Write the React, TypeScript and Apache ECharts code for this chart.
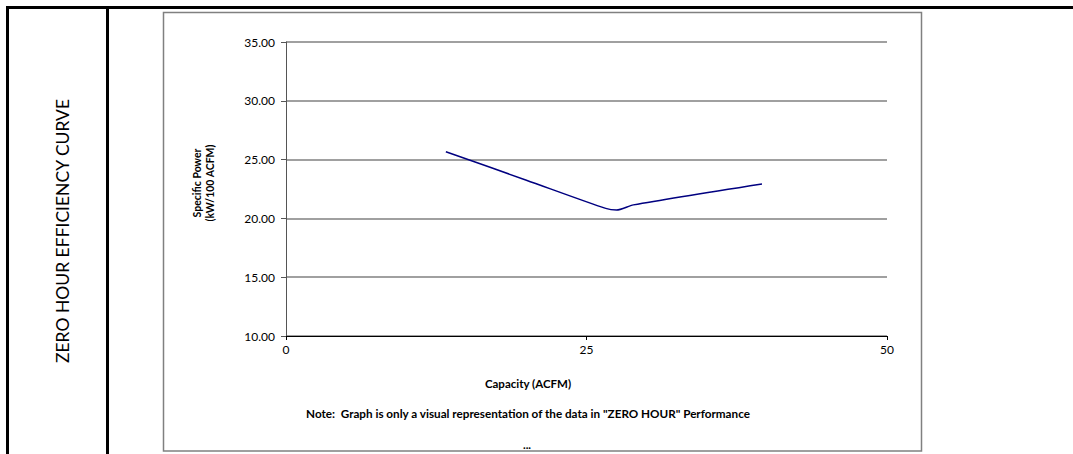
import React, { useEffect, useRef } from "react";
import * as echarts from "echarts";

const capacity = [13.3, 20.0, 26.6, 27.5, 28.9, 39.6];
const specificPower = [25.67, 23.25, 20.85, 20.71, 21.15, 22.93];
const yTicks = [10, 15, 20, 25, 30, 35];
const xTicks = [0, 25, 50];

const FONT = "Lato, 'Open Sans', sans-serif";

export default function App() {
  const ref = useRef<HTMLDivElement>(null);
  useEffect(() => {
    document.body.style.margin = "0";
    const chart = echarts.init(ref.current!, null, { renderer: "svg" });
    const data = capacity.map((c, i) => [c, specificPower[i]]);
    chart.setOption({
      animation: false,
      backgroundColor: "#ffffff",
      grid: { left: 286, right: 186, top: 42, bottom: 118 },
      xAxis: {
        type: "value",
        min: xTicks[0],
        max: xTicks[xTicks.length - 1],
        interval: 25,
        axisLine: { show: true, lineStyle: { color: "#000000", width: 1 } },
        axisTick: { show: true, inside: false, length: 4, lineStyle: { color: "#000000" } },
        splitLine: { show: false },
        axisLabel: { color: "#000000", fontSize: 12, fontFamily: FONT, margin: 7 },
      },
      yAxis: {
        type: "value",
        min: yTicks[0],
        max: yTicks[yTicks.length - 1],
        interval: 5,
        axisLine: { show: true, lineStyle: { color: "#555555", width: 1 } },
        axisTick: { show: true, inside: false, length: 5, lineStyle: { color: "#555555" } },
        splitLine: { show: true, lineStyle: { color: "#808080", width: 1.5 } },
        axisLabel: {
          color: "#000000",
          fontSize: 12,
          fontFamily: FONT,
          margin: 11,
          formatter: (v: number) => v.toFixed(2),
        },
      },
      series: [
        {
          type: "line",
          data,
          smooth: 0.25,
          showSymbol: false,
          lineStyle: { color: "#000080", width: 1.5 },
        },
      ],
      graphic: [
        { type: "rect", shape: { x: 6, y: 6, width: 1067, height: 3 }, style: { fill: "#000" } },
        { type: "rect", shape: { x: 6, y: 6, width: 3, height: 448 }, style: { fill: "#000" } },
        { type: "rect", shape: { x: 106, y: 6, width: 3, height: 448 }, style: { fill: "#000" } },
        {
          type: "rect",
          shape: { x: 163.5, y: 12.5, width: 758, height: 438.5 },
          style: { fill: "none", stroke: "#808080", lineWidth: 1.5 },
        },
        {
          type: "text",
          x: 62,
          y: 231,
          rotation: Math.PI / 2,
          style: {
            text: "ZERO HOUR EFFICIENCY CURVE",
            font: `17.5px ${FONT}`,
            fill: "#000",
            align: "center",
            verticalAlign: "middle",
          },
        },
        {
          type: "text",
          x: 203.5,
          y: 183,
          rotation: Math.PI / 2,
          style: {
            text: "Specific Power\n(kW/100 ACFM)",
            font: `bold 10.5px ${FONT}`,
            fill: "#000",
            align: "center",
            verticalAlign: "middle",
            lineHeight: 12.5,
          },
        },
        {
          type: "text",
          x: 528,
          y: 383,
          style: {
            text: "Capacity (ACFM)",
            font: `bold 11.5px ${FONT}`,
            fill: "#000",
            align: "center",
            verticalAlign: "middle",
          },
        },
        {
          type: "text",
          x: 528,
          y: 413,
          style: {
            text: 'Note:  Graph is only a visual representation of the data in "ZERO HOUR" Performance',
            font: `bold 11.7px ${FONT}`,
            fill: "#000",
            align: "center",
            verticalAlign: "middle",
          },
        },
        {
          type: "text",
          x: 527,
          y: 444,
          style: {
            text: "...",
            font: `bold 11.5px ${FONT}`,
            fill: "#000",
            align: "center",
            verticalAlign: "middle",
          },
        },
      ],
    });
    return () => chart.dispose();
  }, []);
  return (
    <div
      ref={ref}
      style={{ position: "fixed", left: 0, top: 0, width: 1073, height: 454 }}
    />
  );
}
